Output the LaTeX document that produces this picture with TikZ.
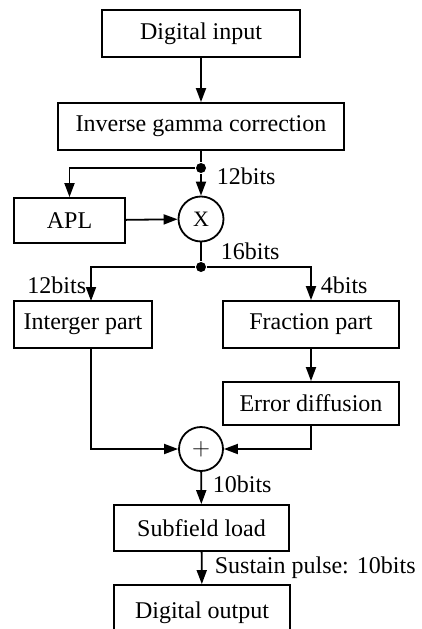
\documentclass[tikz,border=0pt]{standalone}
\usepackage{fontspec}
\setmainfont{Liberation Serif}
\usetikzlibrary{arrows.meta,calc}
\begin{document}
\begin{tikzpicture}[x=1pt,y=-1pt,
  line width=1.8pt,
  font=\fontsize{24}{28}\selectfont,
  flow/.style={-{Triangle[length=14pt,width=10pt]}},
  blk/.style={draw,rectangle,inner sep=0pt,minimum width=#1},
  blk/.default=100pt,
  op/.style={draw,circle,inner sep=0pt,minimum size=45pt},
  junc/.style={fill,circle,inner sep=0pt,minimum size=10pt},
  lbl/.style={inner sep=0pt}]
\useasboundingbox (0,0) rectangle (421,629);
\begin{scope}
\clip (0,0) rectangle (421,629);
% processing blocks
\node[blk=198pt,minimum height=47pt] (din) at (201,33.5) {Digital input};
\node[blk=286pt,minimum height=47pt] (igc) at (201,126.5) {Inverse gamma correction};
\node[blk=111pt,minimum height=45pt] (apl) at (69.5,220.5) {APL};
\node[op] (mul) at (201,219) {\fontsize{22}{24}\selectfont X};
\node[blk=138pt,minimum height=47pt] (int) at (83,324.5) {Interger part};
\node[blk=176pt,minimum height=47pt] (frac) at (311,324.5) {Fraction part};
\node[blk=176pt,minimum height=43pt] (err) at (311,403.5) {Error diffusion};
\node[op,minimum size=44pt] (add) at (201,449) {\fontsize{28}{30}\selectfont$+$};
\node[blk=175pt,minimum height=46pt] (sub) at (201.5,528) {Subfield load};
\node[blk=176pt,minimum height=56pt] (dout) at (202,613) {Digital output};
% branch points
\node[junc] (j1) at (201,168) {};
\node[junc] (j2) at (201,267) {};
\coordinate (intin) at (91,301);
\coordinate (intout) at (91,348);
% connectors
\draw[flow] (din) -- (igc);
\draw (igc) -- (j1);
\draw[flow] (j1) -- (mul);
\draw[flow] (j1) -| (apl.north);
\draw[flow] (apl) -- (mul);
\draw (mul) -- (j2);
\draw[flow] (j2) -| (intin);
\draw[flow] (j2) -| (frac.north);
\draw[flow] (frac) -- (err);
\draw[flow] (intout) |- (add);
\draw[flow] (err.south) |- (add);
\draw[flow] (add) -- (sub);
\draw[flow] (sub) -- (dout);
\end{scope}
% bit-width labels
\node[lbl,anchor=west] (l1) at (216,176) {12bits};
\node[lbl,anchor=west] (l2) at (220,251) {16bits};
\node[lbl,anchor=east] (l3) at (87,285) {12bits};
\node[lbl,anchor=west] (l4) at (320,285) {4bits};
\node[lbl,anchor=west] (l5) at (212,484) {10bits};
\node[lbl,anchor=west] (l6) at (214,568) {Sustain pulse: 10bits};
\end{tikzpicture}
\end{document}
